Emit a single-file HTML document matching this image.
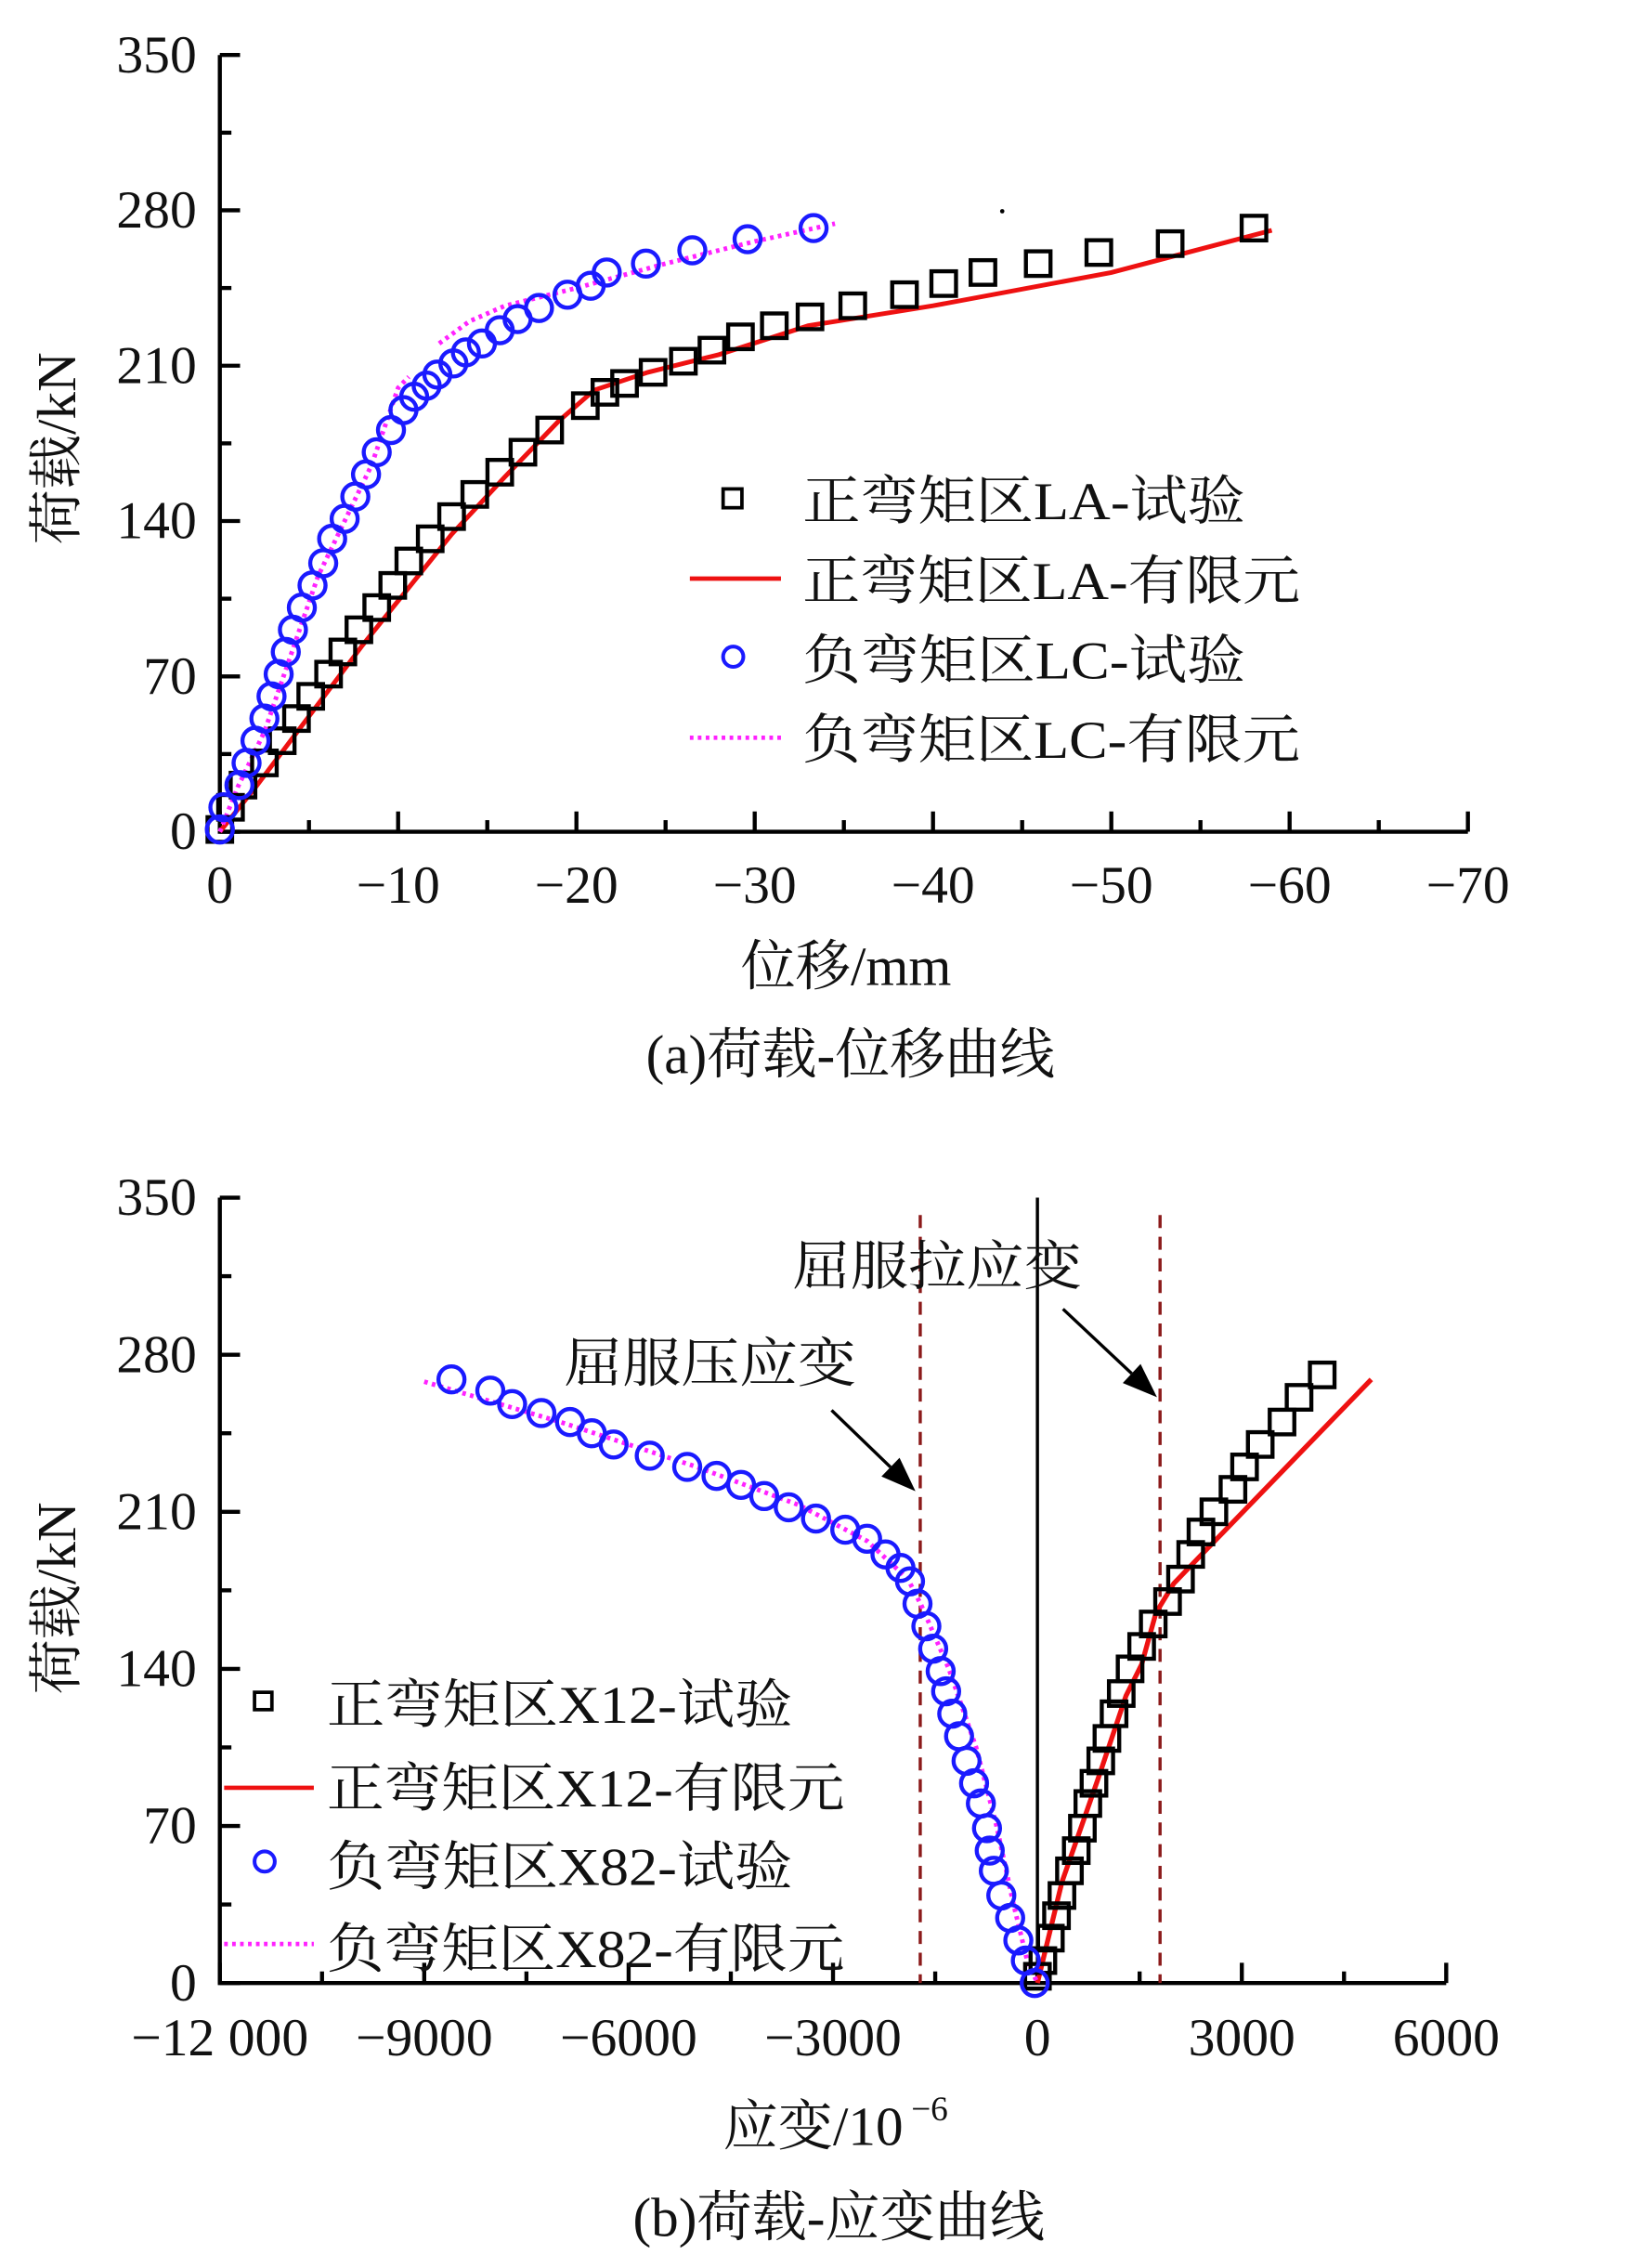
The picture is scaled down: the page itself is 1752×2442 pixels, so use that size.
<!DOCTYPE html>
<html><head><meta charset="utf-8"><style>
html,body{margin:0;padding:0;background:#fff;}
svg{display:block;}
text{font-family:"Liberation Serif","Noto Serif CJK SC",serif;fill:#111;}
</style></head><body>
<svg id="fig" width="1752" height="2442" viewBox="0 0 1125 1568" xmlns="http://www.w3.org/2000/svg">
<g id="ga"></g>
<g id="gb"></g>
</svg>
<script>
// ---- Chart (a) data: displacement magnitude (mm, plotted as negative) vs load (kN)
const aLAtestX=[0,0.6,1.3,2.5,3.5,4.3,5.1,6.1,6.9,7.8,8.8,9.7,10.6,11.8,13,14.3,15.7,17,18.5,20.5,21.6,22.7,24.3,26,27.6,29.2,31.1,33.1,35.5,38.4,40.6,42.8,45.9,49.3,53.3,58];
const aLAtestY=[1,11,21,31,41,51,61,71,81,91,101,111,122,132,142,152,162,171,181,192,198,202,207,212,217,223,228,232,237,242,247,252,256,261,265,272];
const aLAfeX=[0,2,5,8,10.4,13,16,19,21,24,28,33,40,50,59];
const aLAfeY=[0,20,52,84,108,134,160,185,199,207,215,228,237,252,271];
const aLCtestX=[0,0.2,1.1,1.5,2,2.5,2.9,3.3,3.7,4.1,4.6,5.2,5.8,6.3,7,7.6,8.2,8.8,9.6,10.3,10.9,11.6,12.2,13.1,13.8,14.7,15.7,16.7,17.9,19.5,20.8,21.7,23.9,26.5,29.6,33.3];
const aLCtestY=[1,11,21,31,41,51,61,71,81,91,101,111,121,132,141,151,161,171,181,190,196,201,206,211,216,220,226,231,236,242,246,252,256,262,267,272];
const aLCfeX1=[0,1,2.5,4,5.5,7,8.5,10,10.6];
const aLCfeY1=[0,20,45,80,115,140,165,200,205];
const aLCfeX2=[12.3,14,16,20,25,30,34.5];
const aLCfeY2=[220,230,237,245,256,266,274];
const aYTicks=[0,70,140,210,280,350];
const aXTicks=[0,-10,-20,-30,-40,-50,-60,-70];
// ---- Chart (b) data: strain (1e-6) vs load (kN)
const bX12testX=[0,80,190,280,360,470,570,660,740,830,930,1020,1125,1230,1360,1530,1700,1910,2100,2250,2400,2590,2870,3040,3270,3590,3840,4180];
const bX12testY=[3,10,20,30,39,50,59,69,80,89,99,109,120,129,140,150,160,170,180,191,201,210,220,230,240,250,261,271];
const bX12feX=[0,360,890,1300,1530,1740,2000,2380,4900];
const bX12feY=[0,45,91,128,142,165,178,190,269];
const bX82testX=[-40,-170,-280,-400,-530,-640,-700,-740,-830,-930,-1040,-1150,-1250,-1340,-1420,-1530,-1630,-1760,-1870,-2010,-2230,-2500,-2820,-3250,-3650,-4010,-4350,-4710,-5140,-5690,-6220,-6540,-6860,-7280,-7710,-8030,-8600];
const bX82testY=[0,10,19,29,39,50,59,69,80,89,99,110,120,130,139,149,159,169,179,185,191,198,202,207,212,217,222,226,230,235,240,245,250,254,258,264,269];
const bX82feX=[-9000,-7000,-5000,-3500,-2500,-1900,-1700,-1300,-900,-600,-350,-150,0];
const bX82feY=[268,250,230,213,197,180,168,140,105,70,35,10,0];
const bYTicks=[0,70,140,210,280,350];
const bXTicks=[-12000,-9000,-6000,-3000,0,3000,6000];
const bXLabels=["\u221212 000","\u22129000","\u22126000","\u22123000","0","3000","6000"];
const yieldStrain=[-1720,1800];

const NS="http://www.w3.org/2000/svg";
function mk(parent,tag,attrs,txt){const e=document.createElementNS(NS,tag);for(const k in attrs)e.setAttribute(k,attrs[k]);if(txt!==undefined)e.textContent=txt;parent.appendChild(e);return e;}
const SQ=8.5, CR=9, MW=2.8;

// ---------- Chart A ----------
(function(){
const g=document.getElementById('ga');
const x0=152,x1=1015,y0=575,y1=38;
const X=v=>x0+(Math.abs(v))/70*(x1-x0);
const Y=v=>y0-v/350*(y0-y1);
let ax=mk(g,'path',{d:`M${x0},${y1}V${y0}H${x1}`,fill:'none',stroke:'#000','stroke-width':2.8});

for(let i=0;i<aYTicks.length;i++){const y=Y(aYTicks[i]);
 let t=mk(g,'line',{x1:x0,x2:x0+14,y1:y,y2:y,stroke:'#000','stroke-width':2.8});
 if(i<aYTicks.length-1){const ym=Y(aYTicks[i]+35);let m=mk(g,'line',{x1:x0,x2:x0+8,y1:ym,y2:ym,stroke:'#000','stroke-width':2.8});}
 let l=mk(g,'text',{x:136,y:y+12,'text-anchor':'end','font-size':37},String(aYTicks[i]));}
for(let i=0;i<aXTicks.length;i++){const x=X(aXTicks[i]);
 let t=mk(g,'line',{x1:x,x2:x,y1:y0,y2:y0-14,stroke:'#000','stroke-width':2.8});
 if(i<aXTicks.length-1){const xm=X(aXTicks[i]-5);let m=mk(g,'line',{x1:xm,x2:xm,y1:y0,y2:y0-8,stroke:'#000','stroke-width':2.8});}
 let l=mk(g,'text',{x:x,y:624,'text-anchor':'middle','font-size':37},aXTicks[i]===0?'0':'\u2212'+Math.abs(aXTicks[i]));}
let yt=mk(g,'text',{x:0,y:0,'font-size':38,'text-anchor':'middle',transform:'translate(52,310) rotate(-90)'},'荷载/kN');
let xt=mk(g,'text',{x:585,y:681,'font-size':38,'text-anchor':'middle'},'位移/mm');
let cap=mk(g,'text',{x:588,y:742,'font-size':38,'text-anchor':'middle'},'(a)荷载-位移曲线');
let p=aLAfeX.map((v,i)=>`${X(v)},${Y(aLAfeY[i])}`).join(' ');
let l1=mk(g,'polyline',{points:p,fill:'none',stroke:'#ee1111','stroke-width':3.2});
[[aLCfeX1,aLCfeY1],[aLCfeX2,aLCfeY2]].forEach(s=>{let q=s[0].map((v,i)=>`${X(v)},${Y(s[1][i])}`).join(' ');
 let l2=mk(g,'polyline',{points:q,fill:'none',stroke:'#ff22ff','stroke-width':3.2,'stroke-dasharray':'2.5 3'});});
aLAtestX.forEach((v,i)=>{let r=mk(g,'rect',{x:X(v)-SQ,y:Y(aLAtestY[i])-SQ,width:2*SQ,height:2*SQ,fill:'none',stroke:'#000','stroke-width':MW});});
aLCtestX.forEach((v,i)=>{let c=mk(g,'circle',{cx:X(v),cy:Y(aLCtestY[i]),r:CR,fill:'none',stroke:'#1a1aff','stroke-width':MW});});
let dot=mk(g,'circle',{cx:693,cy:146,r:1.5,fill:'#000'});
const lg=mk(g,'g',{});
const rows=[345,400,455,510];const labs=['正弯矩区LA-试验','正弯矩区LA-有限元','负弯矩区LC-试验','负弯矩区LC-有限元'];const lens=[306,344,306,344];
let s1=mk(lg,'rect',{x:500,y:338,width:13,height:13,fill:'none',stroke:'#000','stroke-width':2.4});
let s2=mk(lg,'line',{x1:477,x2:540,y1:400,y2:400,stroke:'#ee1111','stroke-width':3});
let s3=mk(lg,'circle',{cx:507,cy:454,r:7,fill:'none',stroke:'#1a1aff','stroke-width':2.6});
let s4=mk(lg,'line',{x1:477,x2:540,y1:510,y2:510,stroke:'#ff22ff','stroke-width':3,'stroke-dasharray':'2.5 3'});
rows.forEach((y,i)=>{let t=mk(lg,'text',{x:555,y:y+14,'font-size':37,textLength:lens[i],lengthAdjust:'spacingAndGlyphs'},labs[i]);});
})();

// ---------- Chart B ----------
(function(){
const g=document.getElementById('gb');
const x0=152,x1=1000,y0=1371,y1=828;
const X=v=>x0+(v+12000)/18000*(x1-x0);
const Y=v=>y0-v/350*(y0-y1);
let ax=mk(g,'path',{d:`M${x0},${y1}V${y0}H${x1}`,fill:'none',stroke:'#000','stroke-width':2.8});
for(let i=0;i<bYTicks.length;i++){const y=Y(bYTicks[i]);
 let t=mk(g,'line',{x1:x0,x2:x0+14,y1:y,y2:y,stroke:'#000','stroke-width':2.8});
 if(i<bYTicks.length-1){const ym=Y(bYTicks[i]+35);let m=mk(g,'line',{x1:x0,x2:x0+8,y1:ym,y2:ym,stroke:'#000','stroke-width':2.8});}
 let l=mk(g,'text',{x:136,y:y+12,'text-anchor':'end','font-size':37},String(bYTicks[i]));}
for(let i=0;i<bXTicks.length;i++){const x=X(bXTicks[i]);
 let t=mk(g,'line',{x1:x,x2:x,y1:y0,y2:y0-14,stroke:'#000','stroke-width':2.8});
 if(i<bXTicks.length-1){const xm=X(bXTicks[i]+1500);let m=mk(g,'line',{x1:xm,x2:xm,y1:y0,y2:y0-8,stroke:'#000','stroke-width':2.8});}
 let l=mk(g,'text',{x:x,y:1421,'text-anchor':'middle','font-size':37},bXLabels[i]);}
let yt=mk(g,'text',{x:0,y:0,'font-size':38,'text-anchor':'middle',transform:'translate(52,1105) rotate(-90)'},'荷载/kN');
let xt=mk(g,'text',{x:500,y:1483,'font-size':38},'应变/10');
let sup=mk(g,'text',{x:630,y:1466,'font-size':24},'\u22126');
let cap=mk(g,'text',{x:580,y:1546,'font-size':38,'text-anchor':'middle'},'(b)荷载-应变曲线');
let zl=mk(g,'line',{x1:X(0),x2:X(0),y1:y1,y2:y0,stroke:'#000','stroke-width':2.2});
yieldStrain.forEach(v=>{let d=mk(g,'line',{x1:X(v),x2:X(v),y1:840,y2:y0,stroke:'#8b1a1a','stroke-width':2.2,'stroke-dasharray':'9 6'});});
let a1=mk(g,'text',{x:548,y:888,'font-size':37,textLength:200,lengthAdjust:'spacingAndGlyphs'},'屈服拉应变');
let a2=mk(g,'text',{x:390,y:955,'font-size':37,textLength:202,lengthAdjust:'spacingAndGlyphs'},'屈服压应变');
[[735,905,800,966],[575,975,633,1031]].forEach(a=>{
 const dx=a[2]-a[0],dy=a[3]-a[1],L=Math.hypot(dx,dy),ux=dx/L,uy=dy/L;const bx=a[2]-ux*24,by=a[3]-uy*24;
 let ln=mk(g,'line',{x1:a[0],y1:a[1],x2:bx,y2:by,stroke:'#000','stroke-width':2.2});
 let hd=mk(g,'polygon',{points:`${a[2]},${a[3]} ${bx-uy*9},${by+ux*9} ${bx+uy*9},${by-ux*9}`,fill:'#000'});});
let p=bX12feX.map((v,i)=>`${X(v)},${Y(bX12feY[i])}`).join(' ');
let l1=mk(g,'polyline',{points:p,fill:'none',stroke:'#ee1111','stroke-width':3.4});
let q=bX82feX.map((v,i)=>`${X(v)},${Y(bX82feY[i])}`).join(' ');
let l2=mk(g,'polyline',{points:q,fill:'none',stroke:'#ff22ff','stroke-width':3.2,'stroke-dasharray':'2.5 3'});
bX12testX.forEach((v,i)=>{let r=mk(g,'rect',{x:X(v)-SQ,y:Y(bX12testY[i])-SQ,width:2*SQ,height:2*SQ,fill:'none',stroke:'#000','stroke-width':MW});});
bX82testX.forEach((v,i)=>{let c=mk(g,'circle',{cx:X(v),cy:Y(bX82testY[i]),r:CR,fill:'none',stroke:'#1a1aff','stroke-width':MW});});
const lg=mk(g,'g',{});
const rows=[1177,1235,1289,1346];const labs=['正弯矩区X12-试验','正弯矩区X12-有限元','负弯矩区X82-试验','负弯矩区X82-有限元'];const lens=[322,358,322,358];
let s1=mk(lg,'rect',{x:176,y:1170,width:12,height:12,fill:'none',stroke:'#000','stroke-width':2.4});
let s2=mk(lg,'line',{x1:155,x2:217,y1:1236,y2:1236,stroke:'#ee1111','stroke-width':3});
let s3=mk(lg,'circle',{cx:183,cy:1287,r:7,fill:'none',stroke:'#1a1aff','stroke-width':2.6});
let s4=mk(lg,'line',{x1:155,x2:217,y1:1344,y2:1344,stroke:'#ff22ff','stroke-width':3,'stroke-dasharray':'2.5 3'});
rows.forEach((y,i)=>{let t=mk(lg,'text',{x:226,y:y+14,'font-size':37,textLength:lens[i],lengthAdjust:'spacingAndGlyphs'},labs[i]);});
})();
</script>
</body></html>
